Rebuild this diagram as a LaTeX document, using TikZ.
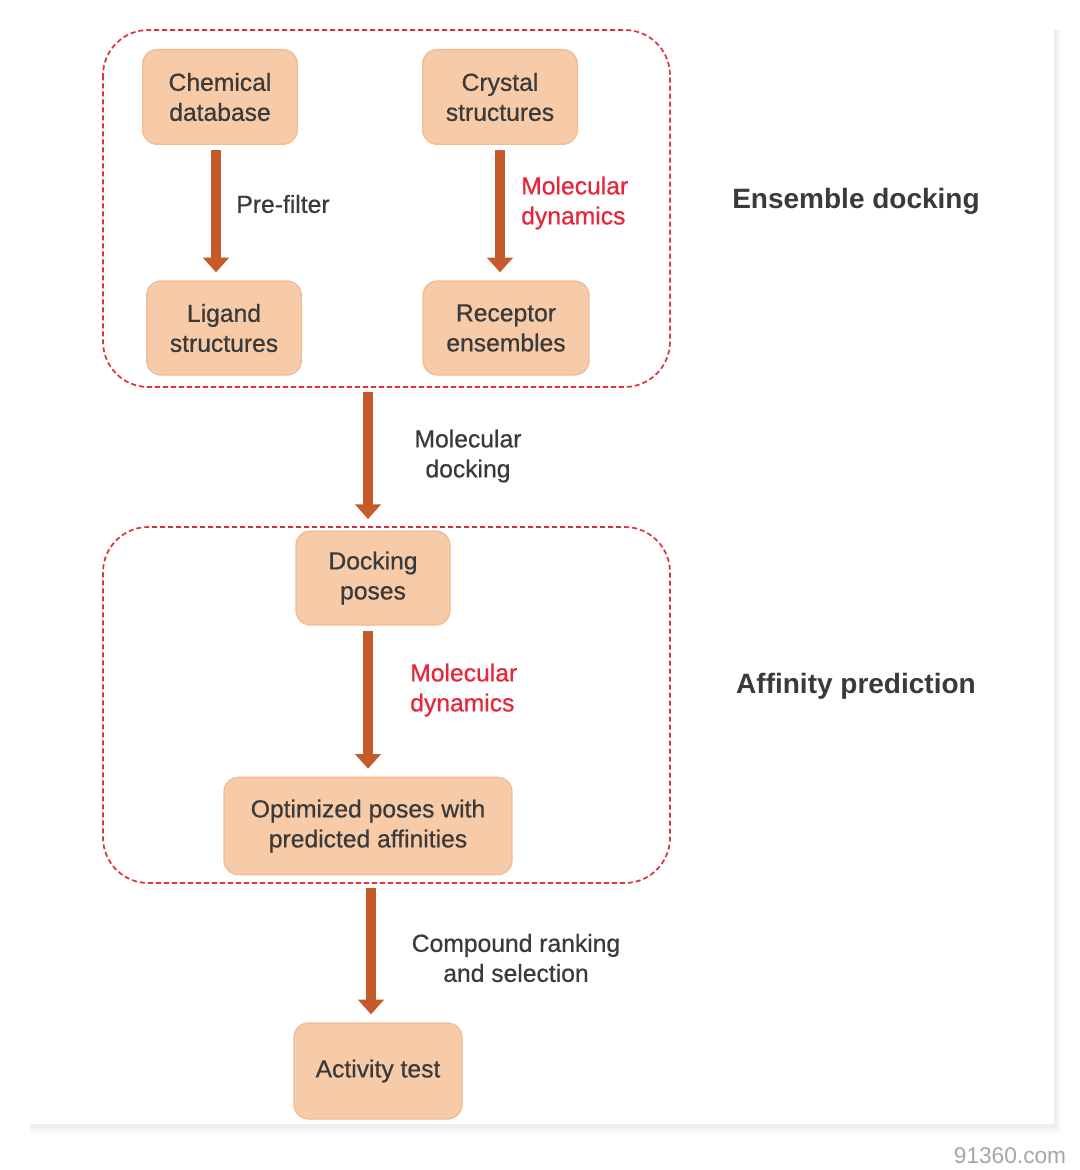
\documentclass[tikz,border=0pt]{standalone}
\usepackage{fontspec}
\setmainfont{Liberation Sans}
\newfontfamily\medfont[FakeBold=0.6]{Liberation Sans}
\usetikzlibrary{arrows.meta,calc}
\definecolor{boxfill}{HTML}{F8CBA8}
\definecolor{boxline}{HTML}{F1BC94}
\definecolor{arrcol}{HTML}{C65A28}
\definecolor{dashred}{HTML}{E0323C}
\definecolor{redtxt}{HTML}{E8263B}
\definecolor{txt}{HTML}{3A3A3A}
\tikzset{
  stepbox/.style={draw=boxline, line width=1pt, fill=boxfill, rounded corners=11pt,
    align=center, text=txt, font=\medfont\fontsize{18.5}{22.5}\selectfont, inner sep=0pt},
  arr/.style={draw=arrcol, line width=7.5pt, -{Triangle[length=11pt,width=19pt]},
    shorten <=4pt, shorten >=6pt},
  lbl/.style={text=txt, font=\medfont\fontsize{18.5}{22.5}\selectfont, align=center, inner sep=0pt},
  redlbl/.style={text=redtxt, font=\medfont\fontsize{18.5}{22.5}\selectfont, align=left, inner sep=0pt},
  group/.style={draw=dashred, line width=1.3pt, dash pattern=on 3.75pt off 2.25pt, rounded corners=34pt},
  heading/.style={text=txt, font=\fontsize{21}{25}\selectfont\bfseries, inner sep=0pt}
}
\begin{document}
\begin{tikzpicture}[x=0.75pt,y=-0.75pt]
\useasboundingbox (0,0) rectangle (1080,1170);
\fill[white] (0,0) rectangle (1080,1170);
% card with soft shadow
\fill[black!2] (30,30) rectangle (1061,1134);
\fill[black!4] (30,30) rectangle (1059,1131);
\fill[black!7] (30,30) rectangle (1057,1128);
\fill[white] (26,22) rectangle (1054,1124);
% groups
\draw[group] (103,30) rectangle (670,387);
\draw[group] (103,527) rectangle (670,883);
% nodes
\node[stepbox, minimum width=116pt, minimum height=71pt] (chem) at (220,97) {Chemical\\database};
\node[stepbox, minimum width=116pt, minimum height=71pt] (cryst) at (500,97) {Crystal\\structures};
\node[stepbox, minimum width=116pt, minimum height=70.5pt] (lig) at (224,328) {Ligand\\structures};
\node[stepbox, minimum width=124.5pt, minimum height=70.5pt] (rec) at (506,328) {Receptor\\ensembles};
\node[stepbox, minimum width=115.5pt, minimum height=70.5pt] (dock) at (373,578) {Docking\\poses};
\node[stepbox, minimum width=216pt, minimum height=73pt] (opt) at (368,826) {Optimized poses with\\predicted affinities};
\node[stepbox, minimum width=126pt, minimum height=72pt] (act) at (378,1071) {Activity test};
% helper coordinates
\coordinate (g1b) at (368,387);
\coordinate (g2t) at (368,527);
\coordinate (g2b) at (371,883);
% arrows
\draw[arr] ([xshift=-3pt]chem.south) -- ([xshift=-3pt]chem.south |- lig.north);
\draw[arr] (cryst.south) -- (cryst.south |- rec.north);
\draw[arr] (g1b) -- (g2t);
\draw[arr] (dock.south -| g1b) -- (g1b |- opt.north);
\draw[arr] (g2b) -- (g2b |- act.north);
% labels
\node[lbl] (l1) at (283,204) {Pre-filter};
\node[redlbl, anchor=west] (l2) at (521,203) {Molecular\\dynamics};
\node[lbl] (l3) at (468,456) {Molecular\\docking};
\node[redlbl, anchor=west] (l4) at (410,690) {Molecular\\dynamics};
\node[lbl] (l5) at (516,958) {Compound ranking\\and selection};
\node[heading] (h1) at (856,201) {Ensemble docking};
\node[heading] (h2) at (856,686) {Affinity prediction};
\node[text=black!35, font=\fontsize{17}{20}\selectfont, inner sep=0pt] (wm) at (1010,1156) {91360.com};
\end{tikzpicture}
\end{document}
